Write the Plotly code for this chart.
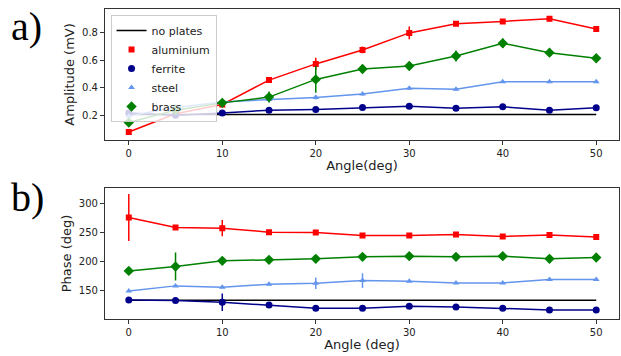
import plotly.graph_objects as go

angles = [0, 5, 10, 15, 20, 25, 30, 35, 40, 45, 50]

# Amplitude (mV)
amp_noplates = [0.205] * 11
amp_aluminium = [0.078, 0.21, 0.278, 0.456, 0.574, 0.676, 0.80, 0.867, 0.884, 0.903, 0.828]
amp_aluminium_err = [0.01, 0.01, 0.015, 0.01, 0.045, 0.025, 0.046, 0.012, 0.015, 0.02, 0.012]
amp_ferrite = [0.217, 0.20, 0.217, 0.237, 0.242, 0.256, 0.266, 0.251, 0.261, 0.237, 0.254]
amp_ferrite_err = [0.01, 0.01, 0.01, 0.01, 0.01, 0.01, 0.02, 0.01, 0.01, 0.01, 0.01]
amp_steel = [0.195, 0.256, 0.297, 0.315, 0.33, 0.354, 0.396, 0.39, 0.444, 0.444, 0.444]
amp_steel_err = [0.01, 0.03, 0.02, 0.02, 0.015, 0.01, 0.01, 0.01, 0.01, 0.01, 0.01]
amp_brass = [0.147, 0.237, 0.29, 0.332, 0.461, 0.537, 0.559, 0.632, 0.725, 0.656, 0.615]
amp_brass_err = [0.015, 0.035, 0.03, 0.04, 0.098, 0.03, 0.015, 0.04, 0.035, 0.015, 0.03]

# Phase (deg)
ph_noplates = [134] * 11
ph_aluminium = [275.5, 258.4, 257.3, 250.5, 249.8, 244.7, 244.7, 246.4, 243.0, 245.5, 242.0]
ph_aluminium_err = [40, 2, 14, 2, 2, 2, 2, 2, 2, 2, 2]
ph_ferrite = [134.6, 133.5, 130.6, 126.0, 120.3, 120.3, 123.8, 122.6, 120.3, 117.5, 117.5]
ph_ferrite_err = [2, 2, 15, 2, 2, 3, 2, 2, 2, 2, 2]
ph_steel = [150.0, 158.6, 156.3, 161.4, 163.1, 167.6, 166.6, 163.7, 163.7, 169.4, 169.4]
ph_steel_err = [2, 2, 2, 2, 10, 12.5, 2, 2, 2, 2, 2]
ph_brass = [184.2, 191.6, 201.4, 203.1, 204.8, 208.2, 209.4, 208.2, 209.4, 204.8, 207.0]
ph_brass_err = [2, 24, 3, 2, 2, 3, 2, 2, 2, 2, 2]

series = [
    ("aluminium", "#ff0000", "square", 6),
    ("ferrite", "#00008b", "circle", 7),
    ("steel", "#6495ed", "triangle-up", 6),
    ("brass", "#008000", "diamond", 8),
]
amp = {"aluminium": (amp_aluminium, amp_aluminium_err), "ferrite": (amp_ferrite, amp_ferrite_err),
       "steel": (amp_steel, amp_steel_err), "brass": (amp_brass, amp_brass_err)}
ph = {"aluminium": (ph_aluminium, ph_aluminium_err), "ferrite": (ph_ferrite, ph_ferrite_err),
      "steel": (ph_steel, ph_steel_err), "brass": (ph_brass, ph_brass_err)}

fig = go.Figure()

# no plates lines
fig.add_trace(go.Scatter(x=angles, y=amp_noplates, mode="lines", line=dict(color="black", width=1.5),
                         name="no plates", xaxis="x", yaxis="y"))
fig.add_trace(go.Scatter(x=angles, y=ph_noplates, mode="lines", line=dict(color="black", width=1.5),
                         showlegend=False, xaxis="x2", yaxis="y2"))

for name, color, sym, sz in series:
    y, e = amp[name]
    fig.add_trace(go.Scatter(x=angles, y=y, mode="lines+markers", showlegend=False,
                             line=dict(color=color, width=1.5),
                             marker=dict(color=color, symbol=sym, size=sz),
                             error_y=dict(type="data", array=e, color=color, thickness=1.5, width=0),
                             xaxis="x", yaxis="y"))
    y, e = ph[name]
    fig.add_trace(go.Scatter(x=angles, y=y, mode="lines+markers", showlegend=False,
                             line=dict(color=color, width=1.5),
                             marker=dict(color=color, symbol=sym, size=sz),
                             error_y=dict(type="data", array=e, color=color, thickness=1.5, width=0),
                             xaxis="x2", yaxis="y2"))
    # legend entry (marker only, like matplotlib errorbar legend)
    fig.add_trace(go.Scatter(x=[None], y=[None], mode="markers", name=name,
                             marker=dict(color=color, symbol=sym, size=sz),
                             xaxis="x", yaxis="y"))

axis_common = dict(showline=True, mirror=True, linecolor="#333", linewidth=1, ticks="outside",
                   ticklen=4, tickcolor="#333", showgrid=False, zeroline=False,
                   tickfont=dict(family="DejaVu Sans", size=10, color="#222"))
title_font = dict(family="DejaVu Sans", size=13, color="#222")

fig.update_layout(
    width=621, height=356, margin=dict(l=0, r=0, t=0, b=0),
    paper_bgcolor="white", plot_bgcolor="white",
    xaxis=dict(domain=[0.169, 0.997], anchor="y", range=[-2.55, 52.45], tickvals=[0, 10, 20, 30, 40, 50],
               title=dict(text="Angle(deg)", font=title_font, standoff=2), **axis_common),
    yaxis=dict(domain=[0.607, 0.975], anchor="x", range=[0.02, 0.975], tickvals=[0.2, 0.4, 0.6, 0.8],
               tickformat=".1f", title=dict(text="Amplitude (mV)", font=title_font, standoff=4), **axis_common),
    xaxis2=dict(domain=[0.169, 0.997], anchor="y2", range=[-2.55, 52.45], tickvals=[0, 10, 20, 30, 40, 50],
                title=dict(text="Angle (deg)", font=title_font, standoff=2), **axis_common),
    yaxis2=dict(domain=[0.104, 0.472], anchor="x2", range=[102, 326], tickvals=[150, 200, 250, 300],
                title=dict(text="Phase (deg)", font=title_font, standoff=4), **axis_common),
    legend=dict(x=0.178, y=0.958, xanchor="left", yanchor="top", bgcolor="rgba(255,255,255,0.8)",
                bordercolor="#ccc", borderwidth=1, font=dict(family="DejaVu Sans", size=11, color="#222"),
                tracegroupgap=0, itemwidth=30),
    annotations=[
        dict(text="a)", x=0.015, y=0.995, xref="paper", yref="paper", xanchor="left", yanchor="top",
             showarrow=False, font=dict(family="Liberation Serif", size=40, color="black")),
        dict(text="b)", x=0.015, y=0.515, xref="paper", yref="paper", xanchor="left", yanchor="top",
             showarrow=False, font=dict(family="Liberation Serif", size=40, color="black")),
    ],
)

fig.write_html("out.html")
